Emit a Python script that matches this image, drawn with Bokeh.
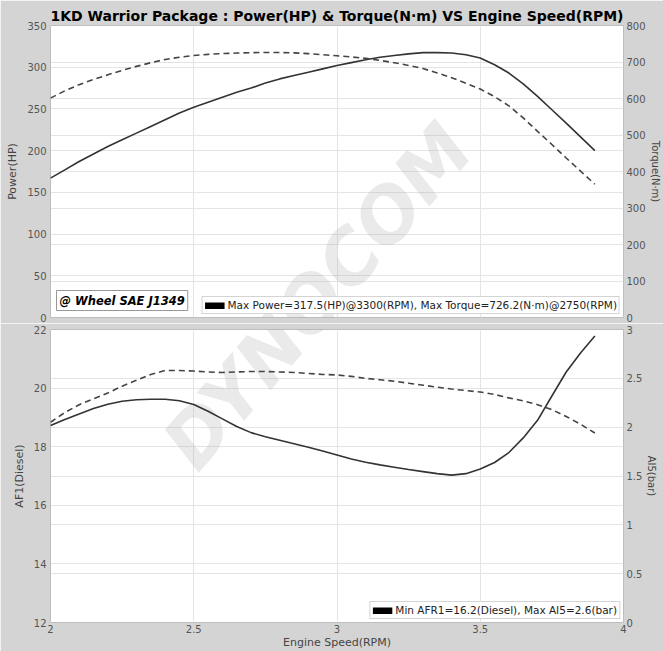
from bokeh.plotting import figure
from bokeh.models import (Range1d, LinearAxis, Grid, FixedTicker, CustomJSTickFormatter,
                          Label, Legend, LegendItem, ColumnDataSource)
from bokeh.layouts import column
from bokeh.embed import file_html
from bokeh.resources import INLINE

# ---------------- data ----------------
rpm = [2.00, 2.05, 2.10, 2.15, 2.20, 2.25, 2.30, 2.35, 2.40, 2.45,
       2.50, 2.55, 2.60, 2.65, 2.70, 2.75, 2.80, 2.85, 2.90, 2.95,
       3.00, 3.05, 3.10, 3.15, 3.20, 3.25, 3.30, 3.35, 3.40, 3.45,
       3.50, 3.55, 3.60, 3.65, 3.70, 3.75, 3.80, 3.85, 3.90]
power_hp = [167, 177, 187, 196, 205, 213, 221, 229, 237, 245,
            252, 258, 264, 270, 275, 281, 286, 290, 294, 298,
            302, 305.5, 309, 312, 314, 316, 317.5, 317.5, 317, 315,
            311, 303, 293, 280, 265, 249, 233, 216.5, 200]
torque_nm = [601, 621, 638, 652, 665, 677, 688, 698, 707, 713,
             718, 721, 723, 724.5, 725.5, 726.2, 726, 725, 723, 720,
             717, 714, 710, 704.5, 698, 690.5, 682, 670, 657, 642,
             626, 605, 580, 547, 510, 474, 437, 401, 365]
afr1 = [18.72, 18.93, 19.12, 19.30, 19.45, 19.55, 19.60, 19.62, 19.62, 19.57,
        19.44, 19.21, 18.95, 18.69, 18.48, 18.34, 18.22, 18.10, 17.98, 17.85,
        17.72, 17.58, 17.47, 17.38, 17.30, 17.22, 17.15, 17.08, 17.03, 17.08,
        17.24, 17.46, 17.80, 18.30, 18.90, 19.73, 20.55, 21.20, 21.78]
ai5_bar = [2.05, 2.15, 2.23, 2.29, 2.35, 2.42, 2.48, 2.54, 2.58, 2.58,
           2.575, 2.565, 2.56, 2.565, 2.57, 2.57, 2.565, 2.56, 2.55, 2.54,
           2.535, 2.52, 2.50, 2.485, 2.47, 2.45, 2.43, 2.41, 2.39, 2.375,
           2.36, 2.335, 2.30, 2.27, 2.23, 2.18, 2.11, 2.03, 1.94]

x_ticks = [2, 2.5, 3, 3.5, 4]
power_ticks = [0, 50, 100, 150, 200, 250, 300, 350]
torque_ticks = [0, 100, 200, 300, 400, 500, 600, 700, 800]
afr_ticks = [12, 14, 16, 18, 20, 22]
ai5_ticks = [0, 0.5, 1, 1.5, 2, 2.5, 3]

title_text = "1KD Warrior Package : Power(HP) & Torque(N·m) VS Engine Speed(RPM)"
power_note = "@ Wheel SAE J1349"
top_legend_text = "Max Power=317.5(HP)@3300(RPM), Max Torque=726.2(N·m)@2750(RPM)"
bottom_legend_text = "Min AFR1=16.2(Diesel), Max AI5=2.6(bar)"
watermark_text = "DYNOCOM"

# ---------------- style ----------------
BG = "#d4d4d4"
GRID = "#e4e4e4"
FONT = "DejaVu Sans"
W = 663
BL, BR = 50, 40


def style_axis(ax, ticks, label, standoff=5, label_size="11px"):
    ax.ticker = FixedTicker(ticks=ticks)
    ax.formatter = CustomJSTickFormatter(code="return String(tick);")
    ax.axis_line_color = None
    ax.major_tick_line_color = None
    ax.minor_tick_line_color = None
    ax.major_tick_out = 0
    ax.major_tick_in = 0
    ax.major_label_text_font = FONT
    ax.major_label_text_font_size = "10px"
    ax.major_label_text_color = "#555555"
    ax.major_label_standoff = 4
    ax.axis_label = label
    ax.axis_label_text_font = FONT
    ax.axis_label_text_font_size = label_size
    ax.axis_label_text_font_style = "normal"
    ax.axis_label_text_color = "#444444"
    ax.axis_label_standoff = standoff


def make_fig(height, yr, yr2, top_b, bottom_b, **kw):
    p = figure(width=W, height=height, x_range=Range1d(2, 4), y_range=Range1d(*yr),
               x_axis_type=None, y_axis_type=None, output_backend="svg",
               toolbar_location=None, min_border_left=BL, min_border_right=BR,
               min_border_top=top_b, min_border_bottom=bottom_b,
               background_fill_color="white", border_fill_color=BG,
               outline_line_color="#bdbdbd", **kw)
    # "right" carries the second series; "swatch" is a range far away from the data,
    # used only so that the legend's black key has a renderer to draw from
    p.extra_y_ranges = {"right": Range1d(*yr2), "swatch": Range1d(5000, 6000)}
    return p


def add_legend(p, text, ycol):
    sw = p.line("rpm", ycol, source=src, y_range_name="swatch",
                line_color="black", line_width=7, line_cap="butt")
    p.add_layout(Legend(items=[LegendItem(label=text, renderers=[sw])],
                        location="bottom_right", margin=3, padding=2, spacing=0,
                        glyph_width=20, glyph_height=7, label_height=11, label_standoff=3,
                        label_text_font=FONT, label_text_font_size="10.5px",
                        label_text_color="#222222", border_line_color="#aaaaaa",
                        background_fill_color="white", background_fill_alpha=1.0))


def add_watermark(p, x, y):
    p.add_layout(Label(x=x, y=y, x_units="screen", y_units="screen", text=watermark_text,
                       angle=49, angle_units="deg", text_font=FONT,
                       text_font_style="bold italic", text_font_size="74px",
                       text_color="#a0a0a0", text_alpha=0.22,
                       text_align="center", text_baseline="middle", level="underlay"))


src = ColumnDataSource(dict(rpm=rpm, power=power_hp, torque=torque_nm, afr=afr1, ai5=ai5_bar))

# ---------------- top panel ----------------
top = make_fig(323, (0, 350), (0, 800), 25, 6, title=title_text)
top.title.align = "center"
top.title.text_font = FONT
top.title.text_font_size = "14px"
top.title.text_font_style = "bold"
top.title.text_color = "black"
top.title.standoff = 4

la = LinearAxis()
style_axis(la, power_ticks, "Power(HP)")
top.add_layout(la, "left")
ra = LinearAxis(y_range_name="right")
style_axis(ra, torque_ticks, "Torque(N·m)", standoff=1, label_size="10px")
ra.major_label_standoff = 3
top.add_layout(ra, "right")
top.add_layout(Grid(dimension=0, ticker=FixedTicker(ticks=x_ticks), grid_line_color=GRID))
top.add_layout(Grid(dimension=1, ticker=FixedTicker(ticks=power_ticks), grid_line_color=GRID))
top.add_layout(Grid(dimension=1, ticker=FixedTicker(ticks=torque_ticks), y_range_name="right",
                    grid_line_color=GRID))

add_watermark(top, 267, 22)

top.line("rpm", "power", source=src, line_color="#333333", line_width=1.6)
top.line("rpm", "torque", source=src, y_range_name="right", line_color="#444444",
         line_width=1.6, line_dash="6 4")

add_legend(top, top_legend_text, "power")

top.add_layout(Label(x=6, y=7, x_units="screen", y_units="screen", text=power_note,
                     text_font=FONT, text_font_style="bold italic", text_font_size="11.5px",
                     text_color="black", background_fill_color="white",
                     border_line_color="#999999", padding=3,
                     text_align="left", text_baseline="bottom"))

# ---------------- bottom panel ----------------
bot = make_fig(328, (12, 22), (0, 3), 6, 28)
bla = LinearAxis()
style_axis(bla, afr_ticks, "AF1(Diesel)")
bot.add_layout(bla, "left")
bra = LinearAxis(y_range_name="right")
style_axis(bra, ai5_ticks, "AI5(bar)", standoff=1, label_size="10px")
bra.major_label_standoff = 3
bot.add_layout(bra, "right")
bxa = LinearAxis()
style_axis(bxa, x_ticks, "Engine Speed(RPM)", standoff=0)
bxa.major_label_standoff = 2
bot.add_layout(bxa, "below")
bot.add_layout(Grid(dimension=0, ticker=FixedTicker(ticks=x_ticks), grid_line_color=GRID))
bot.add_layout(Grid(dimension=1, ticker=FixedTicker(ticks=afr_ticks), grid_line_color=GRID))
bot.add_layout(Grid(dimension=1, ticker=FixedTicker(ticks=ai5_ticks), y_range_name="right",
                    grid_line_color=GRID))

add_watermark(bot, 267, 326)

bot.line("rpm", "afr", source=src, line_color="#333333", line_width=1.6)
bot.line("rpm", "ai5", source=src, y_range_name="right", line_color="#444444",
         line_width=1.6, line_dash="6 4")

add_legend(bot, bottom_legend_text, "afr")

layout = column(top, bot, spacing=0)
open("out.html", "w").write(file_html(layout, INLINE))
